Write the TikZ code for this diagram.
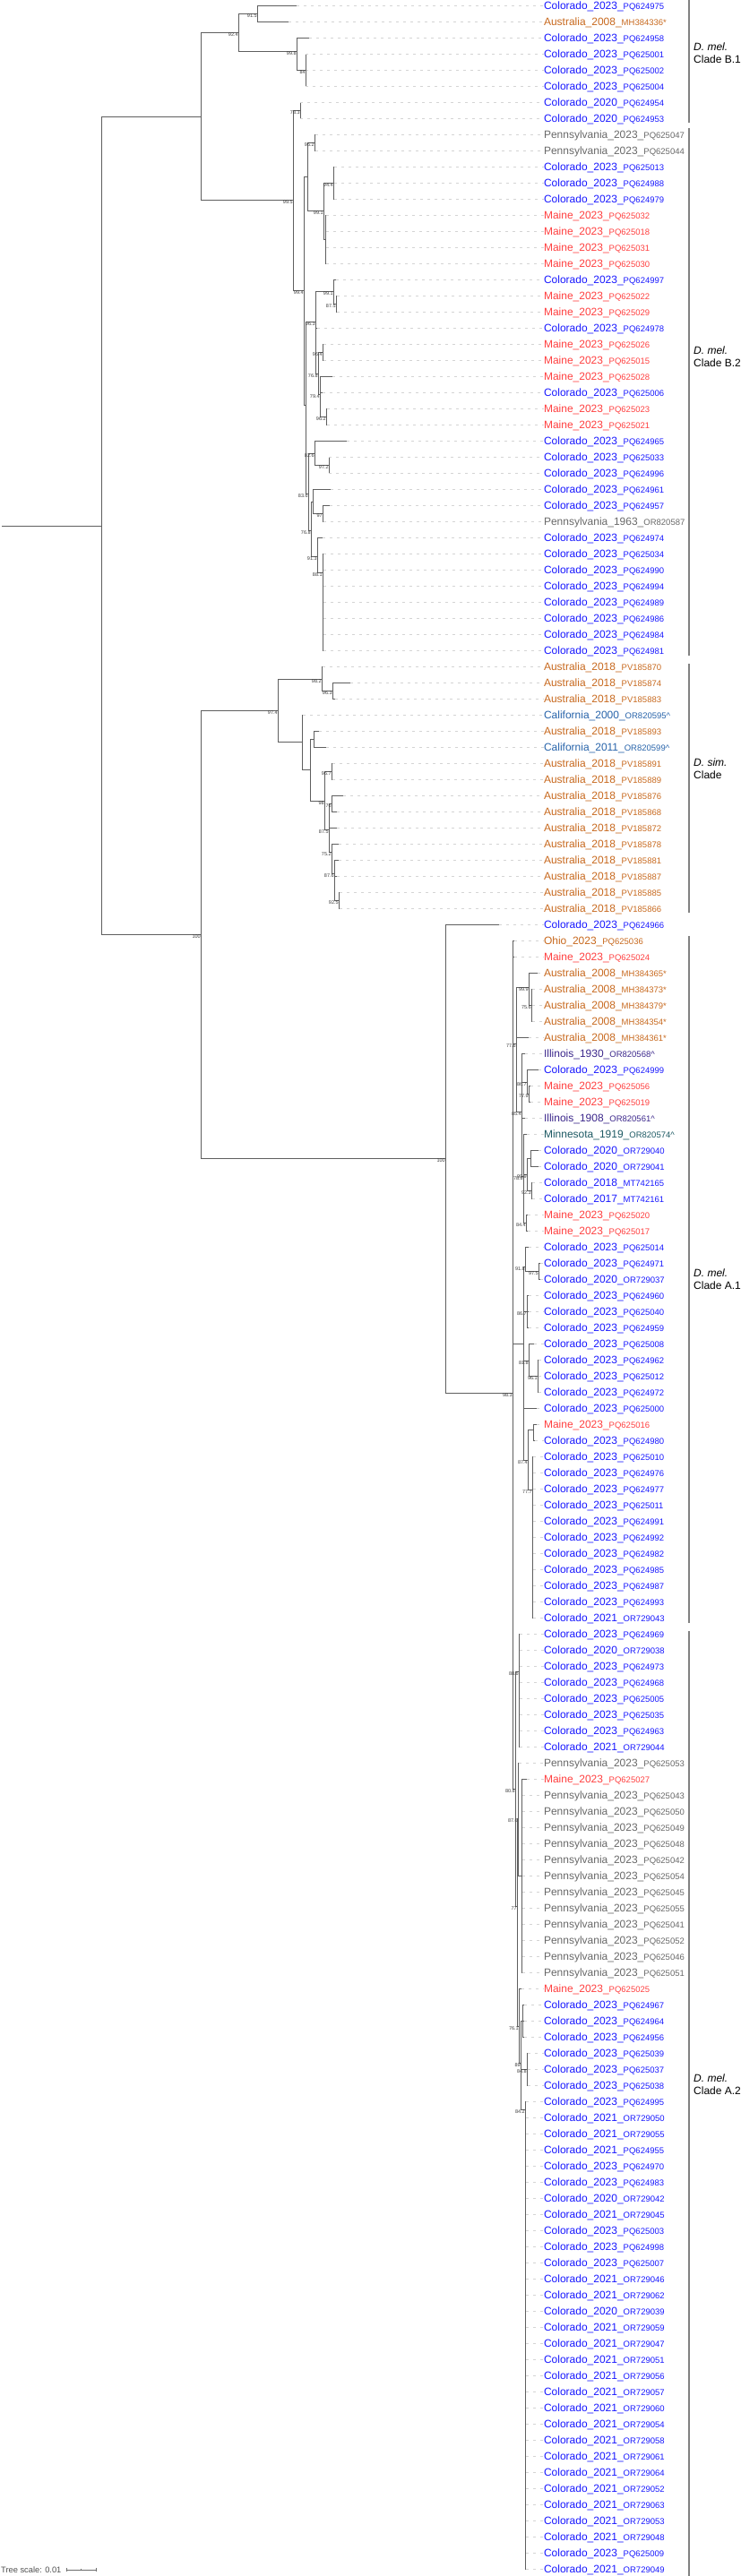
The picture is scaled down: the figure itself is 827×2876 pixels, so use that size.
\documentclass[tikz,border=0pt]{standalone}
\usepackage{fontspec}
\setmainfont{Liberation Sans}
\definecolor{colo}{RGB}{25,25,255}
\definecolor{maine}{RGB}{255,64,64}
\definecolor{penn}{RGB}{105,105,105}
\definecolor{aus}{RGB}{200,105,30}
\definecolor{cali}{RGB}{40,100,170}
\definecolor{illi}{RGB}{60,40,140}
\definecolor{minn}{RGB}{30,90,100}
\definecolor{brc}{RGB}{95,95,95}
\definecolor{leadc}{RGB}{212,212,212}
\definecolor{barc}{RGB}{130,130,130}
\tikzset{
  br/.style={draw=brc,line width=0.9pt},
  lead/.style={draw=leadc,line width=0.6pt,dash pattern=on 3pt off 5pt},
  lab/.style={anchor=base west,inner sep=0pt,outer sep=0pt,font=\fontsize{12}{14}\selectfont},
  bs/.style={anchor=east,inner sep=0pt,outer sep=0pt,text={rgb,255:red,60;green,60;blue,60},font=\fontsize{5.5}{6}\selectfont},
  cladebar/.style={draw=barc,line width=1.2pt},
  cladelab/.style={anchor=west,align=left,inner sep=0pt,font=\fontsize{12}{13.5}\selectfont},
}
\newcommand\tacc[1]{{\fontsize{9.5}{10}\selectfont #1}}
\newcommand\tleaf[6]{%
  \pgfmathsetmacro\tyy{6+18*#1}%
  \coordinate (T#1) at (#3,\tyy);%
  \draw[br] (#2) |- (T#1);%
  \node[lab,text=#4] (L#1) at (607,\tyy+4.2) {#5\tacc{#6}};%
  \draw[lead] (T#1) -- (L#1.west |- T#1);%
}
\newcommand\tnd[5]{%
  \coordinate (#1) at (#3,#4);%
  \draw[br] (#2) |- (#1);%
  \node[bs] (b#1) at (#3-0.3,#4+3) {#5};%
}
\newcommand\tndq[4]{%
  \coordinate (#1) at (#3,#4);%
  \draw[br] (#2) |- (#1);%
}
\begin{document}
\begin{tikzpicture}[x=1pt,y=-1pt]
\path[fill=white,use as bounding box] (0,0) rectangle (827,2876);
% root
\coordinate (R0) at (2,587);
\coordinate (NR) at (113,587);
\draw[br] (R0) -- (NR);
\tndq{NB}{NR}{224}{130}
\tnd{NSA}{NR}{224}{1043}{100}
% clade B.1
\tnd{NB1}{NB}{266}{36}{92.4}
\tnd{N915}{NB1}{287}{15}{91.5}
\tnd{N998}{NB1}{331}{57}{99.8}
\tnd{N84}{N998}{341}{78}{84}
% clade B.2
\tnd{Nb2}{NB}{327}{223}{99.5}
\tnd{N783}{Nb2}{335}{123}{78.3}
\tnd{N994}{Nb2}{339}{324}{99.4}
\tndq{Nx}{N994}{343}{197}
\tnd{N952}{Nx}{351}{159}{95.2}
\tnd{N991}{Nx}{361}{235}{99.1}
\tnd{N944}{N991}{372}{204}{94.4}
\tndq{NM}{N991}{363}{267}
\tndq{Ny}{N994}{341}{452}
\tnd{N963}{Ny}{352}{359}{96.3}
\tnd{N991b}{N963}{372}{325}{99.1}
\tnd{N875}{N991b}{375}{339}{87.5}
\tnd{N768}{N963}{355}{417}{76.8}
\tnd{N964}{N768}{360}{393}{96.4}
\tnd{N794}{N768}{357}{440}{79.4}
\tnd{N962}{N794}{364}{465}{96.2}
\tnd{N836}{Ny}{344}{551}{83.6}
\tnd{N826}{N836}{351}{506}{82.6}
\tnd{N972}{N826}{367}{519}{97.2}
\tnd{N768b}{N836}{347}{592}{76.8}
\tndq{Nq}{N768b}{349}{560}
\tnd{N97}{Nq}{360}{573}{97}
\tnd{N913}{N768b}{354}{621}{91.3}
\tnd{N881}{N913}{360}{639}{88.1}
% D. sim. clade
\tnd{NSim}{NSA}{310}{793}{97.4}
\tnd{N982}{NSim}{359}{758}{98.2}
\tnd{N963s}{N982}{371}{771}{96.3}
\tndq{Nc}{NSim}{337}{828}
\tndq{Nd}{Nc}{346}{859}
\tndq{Ne}{Nd}{350}{825}
\tnd{N98}{Nd}{362}{894}{98}
\tnd{N967}{N98}{370}{861}{96.7}
\tnd{N875s}{N98}{367}{926}{87.5}
\tnd{N76}{N875s}{370}{897}{76}
\tnd{N752}{N875s}{370}{951}{75.2}
\tnd{N876}{N752}{373}{975}{87.6}
\tnd{N925}{N876}{378}{1005}{92.5}
% clade A
\tnd{NA0}{NSA}{497}{1293}{100}
\tnd{NA}{NA0}{572}{1555}{98.3}
\tnd{NA1a}{NA}{576}{1165}{77.6}
\tnd{N999a}{NA1a}{590}{1102}{99.9}
\tnd{N756}{N999a}{593}{1122}{75.6}
\tnd{N854}{NA1a}{582}{1241}{85.4}
\tnd{N867}{N854}{588}{1208}{86.7}
\tnd{N779}{N867}{590}{1221}{77.9}
\tnd{N788}{N854}{584}{1313}{78.8}
\tnd{N999b}{N788}{588}{1311}{99.9}
\tndq{N71}{N999b}{592}{1293}
\tnd{N923}{N999b}{593}{1329}{92.3}
\tnd{N844}{N788}{587}{1365}{84.4}
\tndq{N587}{NA}{584}{1500}
\tnd{N918}{N587}{586}{1414}{91.8}
\tnd{N975}{N918}{601}{1419}{97.5}
\tnd{N867b}{N587}{588}{1464}{86.7}
\tnd{N818}{N587}{590}{1519}{81.8}
\tnd{N961}{N818}{600}{1536}{96.1}
\tnd{N874}{N587}{589}{1630}{87.4}
\tndq{N88}{N874}{595}{1596}
\tnd{N777}{N874}{594}{1663}{77.7}
\tnd{N808}{NA}{575}{1997}{80.8}
\tnd{N886}{N808}{579}{1866}{88.6}
\tnd{N77n}{N808}{577}{2128}{77}
\tnd{N876b}{N77n}{578}{2030}{87.6}
\tndq{N582}{N876b}{582}{2094}
\tnd{N761}{N77n}{579}{2262}{76.1}
\tnd{N89}{N761}{581}{2303}{89}
\tndq{N583}{N89}{583}{2256}
\tnd{N848}{N89}{588}{2310}{84.8}
\tnd{N842}{N89}{586}{2355}{84.2}
% leaves B.1
\tleaf{0}{N915}{331}{colo}{Colorado\_2023\_}{PQ624975}
\tleaf{1}{N915}{322}{aus}{Australia\_2008\_}{MH384336*}
\tleaf{2}{N998}{345}{colo}{Colorado\_2023\_}{PQ624958}
\tleaf{3}{N84}{341}{colo}{Colorado\_2023\_}{PQ625001}
\tleaf{4}{N84}{341}{colo}{Colorado\_2023\_}{PQ625002}
\tleaf{5}{N84}{341}{colo}{Colorado\_2023\_}{PQ625004}
\tleaf{6}{N783}{335}{colo}{Colorado\_2020\_}{PQ624954}
\tleaf{7}{N783}{335}{colo}{Colorado\_2020\_}{PQ624953}
% leaves B.2
\tleaf{8}{N952}{352}{penn}{Pennsylvania\_2023\_}{PQ625047}
\tleaf{9}{N952}{352}{penn}{Pennsylvania\_2023\_}{PQ625044}
\tleaf{10}{N944}{373}{colo}{Colorado\_2023\_}{PQ625013}
\tleaf{11}{N944}{373}{colo}{Colorado\_2023\_}{PQ624988}
\tleaf{12}{N944}{373}{colo}{Colorado\_2023\_}{PQ624979}
\tleaf{13}{NM}{364}{maine}{Maine\_2023\_}{PQ625032}
\tleaf{14}{NM}{364}{maine}{Maine\_2023\_}{PQ625018}
\tleaf{15}{NM}{364}{maine}{Maine\_2023\_}{PQ625031}
\tleaf{16}{NM}{364}{maine}{Maine\_2023\_}{PQ625030}
\tleaf{17}{N991b}{375}{colo}{Colorado\_2023\_}{PQ624997}
\tleaf{18}{N875}{376}{maine}{Maine\_2023\_}{PQ625022}
\tleaf{19}{N875}{376}{maine}{Maine\_2023\_}{PQ625029}
\tleaf{20}{N963}{354}{colo}{Colorado\_2023\_}{PQ624978}
\tleaf{21}{N964}{361}{maine}{Maine\_2023\_}{PQ625026}
\tleaf{22}{N964}{361}{maine}{Maine\_2023\_}{PQ625015}
\tleaf{23}{N794}{371}{maine}{Maine\_2023\_}{PQ625028}
\tleaf{24}{N794}{360}{colo}{Colorado\_2023\_}{PQ625006}
\tleaf{25}{N962}{365}{maine}{Maine\_2023\_}{PQ625023}
\tleaf{26}{N962}{365}{maine}{Maine\_2023\_}{PQ625021}
\tleaf{27}{N826}{387}{colo}{Colorado\_2023\_}{PQ624965}
\tleaf{28}{N972}{367}{colo}{Colorado\_2023\_}{PQ625033}
\tleaf{29}{N972}{367}{colo}{Colorado\_2023\_}{PQ624996}
\tleaf{30}{Nq}{369}{colo}{Colorado\_2023\_}{PQ624961}
\tleaf{31}{N97}{368}{colo}{Colorado\_2023\_}{PQ624957}
\tleaf{32}{N97}{361}{penn}{Pennsylvania\_1963\_}{OR820587}
\tleaf{33}{N913}{360}{colo}{Colorado\_2023\_}{PQ624974}
\tleaf{34}{N881}{361}{colo}{Colorado\_2023\_}{PQ625034}
\tleaf{35}{N881}{361}{colo}{Colorado\_2023\_}{PQ624990}
\tleaf{36}{N881}{361}{colo}{Colorado\_2023\_}{PQ624994}
\tleaf{37}{N881}{361}{colo}{Colorado\_2023\_}{PQ624989}
\tleaf{38}{N881}{361}{colo}{Colorado\_2023\_}{PQ624986}
\tleaf{39}{N881}{361}{colo}{Colorado\_2023\_}{PQ624984}
\tleaf{40}{N881}{361}{colo}{Colorado\_2023\_}{PQ624981}
% leaves D. sim.
\tleaf{41}{N982}{360}{aus}{Australia\_2018\_}{PV185870}
\tleaf{42}{N963s}{391}{aus}{Australia\_2018\_}{PV185874}
\tleaf{43}{N963s}{374}{aus}{Australia\_2018\_}{PV185883}
\tleaf{44}{Nc}{338}{cali}{California\_2000\_}{OR820595\textasciicircum}
\tleaf{45}{Ne}{356}{aus}{Australia\_2018\_}{PV185893}
\tleaf{46}{Ne}{364}{cali}{California\_2011\_}{OR820599\textasciicircum}
\tleaf{47}{N967}{371}{aus}{Australia\_2018\_}{PV185891}
\tleaf{48}{N967}{371}{aus}{Australia\_2018\_}{PV185889}
\tleaf{49}{N76}{383}{aus}{Australia\_2018\_}{PV185876}
\tleaf{50}{N76}{376}{aus}{Australia\_2018\_}{PV185868}
\tleaf{51}{N875s}{376}{aus}{Australia\_2018\_}{PV185872}
\tleaf{52}{N752}{378}{aus}{Australia\_2018\_}{PV185878}
\tleaf{53}{N876}{378}{aus}{Australia\_2018\_}{PV185881}
\tleaf{54}{N876}{376}{aus}{Australia\_2018\_}{PV185887}
\tleaf{55}{N925}{379}{aus}{Australia\_2018\_}{PV185885}
\tleaf{56}{N925}{379}{aus}{Australia\_2018\_}{PV185866}
% outlier
\tleaf{57}{NA0}{557}{colo}{Colorado\_2023\_}{PQ624966}
% leaves A.1
\tleaf{58}{NA}{574}{aus}{Ohio\_2023\_}{PQ625036}
\tleaf{59}{NA}{574}{maine}{Maine\_2023\_}{PQ625024}
\tleaf{60}{N999a}{600}{aus}{Australia\_2008\_}{MH384365*}
\tleaf{61}{N756}{594}{aus}{Australia\_2008\_}{MH384373*}
\tleaf{62}{N756}{594}{aus}{Australia\_2008\_}{MH384379*}
\tleaf{63}{N756}{594}{aus}{Australia\_2008\_}{MH384354*}
\tleaf{64}{NA1a}{590}{aus}{Australia\_2008\_}{MH384361*}
\tleaf{65}{N854}{586}{illi}{Illinois\_1930\_}{OR820568\textasciicircum}
\tleaf{66}{N867}{601}{colo}{Colorado\_2023\_}{PQ624999}
\tleaf{67}{N779}{592}{maine}{Maine\_2023\_}{PQ625056}
\tleaf{68}{N779}{592}{maine}{Maine\_2023\_}{PQ625019}
\tleaf{69}{N854}{586}{illi}{Illinois\_1908\_}{OR820561\textasciicircum}
\tleaf{70}{N788}{588}{minn}{Minnesota\_1919\_}{OR820574\textasciicircum}
\tleaf{71}{N71}{601}{colo}{Colorado\_2020\_}{OR729040}
\tleaf{72}{N71}{601}{colo}{Colorado\_2020\_}{OR729041}
\tleaf{73}{N923}{594}{colo}{Colorado\_2018\_}{MT742165}
\tleaf{74}{N923}{594}{colo}{Colorado\_2017\_}{MT742161}
\tleaf{75}{N844}{589}{maine}{Maine\_2023\_}{PQ625020}
\tleaf{76}{N844}{589}{maine}{Maine\_2023\_}{PQ625017}
\tleaf{77}{N918}{590}{colo}{Colorado\_2023\_}{PQ625014}
\tleaf{78}{N975}{603}{colo}{Colorado\_2023\_}{PQ624971}
\tleaf{79}{N975}{603}{colo}{Colorado\_2020\_}{OR729037}
\tleaf{80}{N867b}{590}{colo}{Colorado\_2023\_}{PQ624960}
\tleaf{81}{N867b}{590}{colo}{Colorado\_2023\_}{PQ625040}
\tleaf{82}{N867b}{590}{colo}{Colorado\_2023\_}{PQ624959}
\tleaf{83}{N818}{596}{colo}{Colorado\_2023\_}{PQ625008}
\tleaf{84}{N961}{601}{colo}{Colorado\_2023\_}{PQ624962}
\tleaf{85}{N961}{601}{colo}{Colorado\_2023\_}{PQ625012}
\tleaf{86}{N961}{601}{colo}{Colorado\_2023\_}{PQ624972}
\tleaf{87}{N587}{599}{colo}{Colorado\_2023\_}{PQ625000}
\tleaf{88}{N88}{599}{maine}{Maine\_2023\_}{PQ625016}
\tleaf{89}{N88}{597}{colo}{Colorado\_2023\_}{PQ624980}
\tleaf{90}{N777}{595}{colo}{Colorado\_2023\_}{PQ625010}
\tleaf{91}{N777}{595}{colo}{Colorado\_2023\_}{PQ624976}
\tleaf{92}{N777}{595}{colo}{Colorado\_2023\_}{PQ624977}
\tleaf{93}{N777}{595}{colo}{Colorado\_2023\_}{PQ625011}
\tleaf{94}{N777}{595}{colo}{Colorado\_2023\_}{PQ624991}
\tleaf{95}{N777}{595}{colo}{Colorado\_2023\_}{PQ624992}
\tleaf{96}{N777}{595}{colo}{Colorado\_2023\_}{PQ624982}
\tleaf{97}{N777}{595}{colo}{Colorado\_2023\_}{PQ624985}
\tleaf{98}{N777}{595}{colo}{Colorado\_2023\_}{PQ624987}
\tleaf{99}{N777}{595}{colo}{Colorado\_2023\_}{PQ624993}
\tleaf{100}{N777}{595}{colo}{Colorado\_2021\_}{OR729043}
% leaves A.2
\tleaf{101}{N886}{580}{colo}{Colorado\_2023\_}{PQ624969}
\tleaf{102}{N886}{580}{colo}{Colorado\_2020\_}{OR729038}
\tleaf{103}{N886}{580}{colo}{Colorado\_2023\_}{PQ624973}
\tleaf{104}{N886}{580}{colo}{Colorado\_2023\_}{PQ624968}
\tleaf{105}{N886}{580}{colo}{Colorado\_2023\_}{PQ625005}
\tleaf{106}{N886}{580}{colo}{Colorado\_2023\_}{PQ625035}
\tleaf{107}{N886}{580}{colo}{Colorado\_2023\_}{PQ624963}
\tleaf{108}{N886}{580}{colo}{Colorado\_2021\_}{OR729044}
\tleaf{109}{N876b}{579}{penn}{Pennsylvania\_2023\_}{PQ625053}
\tleaf{110}{N582}{588}{maine}{Maine\_2023\_}{PQ625027}
\tleaf{111}{N582}{583}{penn}{Pennsylvania\_2023\_}{PQ625043}
\tleaf{112}{N582}{583}{penn}{Pennsylvania\_2023\_}{PQ625050}
\tleaf{113}{N582}{583}{penn}{Pennsylvania\_2023\_}{PQ625049}
\tleaf{114}{N582}{583}{penn}{Pennsylvania\_2023\_}{PQ625048}
\tleaf{115}{N582}{583}{penn}{Pennsylvania\_2023\_}{PQ625042}
\tleaf{116}{N582}{583}{penn}{Pennsylvania\_2023\_}{PQ625054}
\tleaf{117}{N582}{583}{penn}{Pennsylvania\_2023\_}{PQ625045}
\tleaf{118}{N582}{583}{penn}{Pennsylvania\_2023\_}{PQ625055}
\tleaf{119}{N582}{583}{penn}{Pennsylvania\_2023\_}{PQ625041}
\tleaf{120}{N582}{583}{penn}{Pennsylvania\_2023\_}{PQ625052}
\tleaf{121}{N582}{583}{penn}{Pennsylvania\_2023\_}{PQ625046}
\tleaf{122}{N582}{583}{penn}{Pennsylvania\_2023\_}{PQ625051}
\tleaf{123}{N761}{582}{maine}{Maine\_2023\_}{PQ625025}
\tleaf{124}{N583}{585}{colo}{Colorado\_2023\_}{PQ624967}
\tleaf{125}{N583}{585}{colo}{Colorado\_2023\_}{PQ624964}
\tleaf{126}{N583}{585}{colo}{Colorado\_2023\_}{PQ624956}
\tleaf{127}{N848}{589}{colo}{Colorado\_2023\_}{PQ625039}
\tleaf{128}{N848}{589}{colo}{Colorado\_2023\_}{PQ625037}
\tleaf{129}{N848}{589}{colo}{Colorado\_2023\_}{PQ625038}
\tleaf{130}{N842}{587}{colo}{Colorado\_2023\_}{PQ624995}
\tleaf{131}{N842}{587}{colo}{Colorado\_2021\_}{OR729050}
\tleaf{132}{N842}{587}{colo}{Colorado\_2021\_}{OR729055}
\tleaf{133}{N842}{587}{colo}{Colorado\_2021\_}{PQ624955}
\tleaf{134}{N842}{587}{colo}{Colorado\_2023\_}{PQ624970}
\tleaf{135}{N842}{587}{colo}{Colorado\_2023\_}{PQ624983}
\tleaf{136}{N842}{587}{colo}{Colorado\_2020\_}{OR729042}
\tleaf{137}{N842}{587}{colo}{Colorado\_2021\_}{OR729045}
\tleaf{138}{N842}{587}{colo}{Colorado\_2023\_}{PQ625003}
\tleaf{139}{N842}{587}{colo}{Colorado\_2023\_}{PQ624998}
\tleaf{140}{N842}{587}{colo}{Colorado\_2023\_}{PQ625007}
\tleaf{141}{N842}{587}{colo}{Colorado\_2021\_}{OR729046}
\tleaf{142}{N842}{587}{colo}{Colorado\_2021\_}{OR729062}
\tleaf{143}{N842}{587}{colo}{Colorado\_2020\_}{OR729039}
\tleaf{144}{N842}{587}{colo}{Colorado\_2021\_}{OR729059}
\tleaf{145}{N842}{587}{colo}{Colorado\_2021\_}{OR729047}
\tleaf{146}{N842}{587}{colo}{Colorado\_2021\_}{OR729051}
\tleaf{147}{N842}{587}{colo}{Colorado\_2021\_}{OR729056}
\tleaf{148}{N842}{587}{colo}{Colorado\_2021\_}{OR729057}
\tleaf{149}{N842}{587}{colo}{Colorado\_2021\_}{OR729060}
\tleaf{150}{N842}{587}{colo}{Colorado\_2021\_}{OR729054}
\tleaf{151}{N842}{587}{colo}{Colorado\_2021\_}{OR729058}
\tleaf{152}{N842}{587}{colo}{Colorado\_2021\_}{OR729061}
\tleaf{153}{N842}{587}{colo}{Colorado\_2021\_}{OR729064}
\tleaf{154}{N842}{587}{colo}{Colorado\_2021\_}{OR729052}
\tleaf{155}{N842}{587}{colo}{Colorado\_2021\_}{OR729063}
\tleaf{156}{N842}{587}{colo}{Colorado\_2021\_}{OR729053}
\tleaf{157}{N842}{587}{colo}{Colorado\_2021\_}{OR729048}
\tleaf{158}{N842}{587}{colo}{Colorado\_2023\_}{PQ625009}
\tleaf{159}{N842}{587}{colo}{Colorado\_2021\_}{OR729049}
% clade bars
\coordinate (cb1t) at (769,0);    \coordinate (cb1b) at (769,137);
\coordinate (cb2t) at (769,143);  \coordinate (cb2b) at (769,732);
\coordinate (cb3t) at (769,741);  \coordinate (cb3b) at (769,1019);
\coordinate (cb4t) at (769,1045); \coordinate (cb4b) at (769,1812);
\coordinate (cb5t) at (769,1821); \coordinate (cb5b) at (769,2876);
\draw[cladebar] (cb1t) -- (cb1b);
\draw[cladebar] (cb2t) -- (cb2b);
\draw[cladebar] (cb3t) -- (cb3b);
\draw[cladebar] (cb4t) -- (cb4b);
\draw[cladebar] (cb5t) -- (cb5b);
\node[cladelab] (cl1) at (774,59) {\textit{D. mel.}\\Clade B.1};
\node[cladelab] (cl2) at (774,398) {\textit{D. mel.}\\Clade B.2};
\node[cladelab] (cl3) at (774,858) {\textit{D. sim.}\\Clade};
\node[cladelab] (cl4) at (774,1428) {\textit{D. mel.}\\Clade A.1};
\node[cladelab] (cl5) at (774,2327) {\textit{D. mel.}\\Clade A.2};
% tree scale
\node[anchor=base west,inner sep=0pt,text={rgb,255:red,80;green,80;blue,80},font=\fontsize{9.3}{10}\selectfont] (ts) at (1,2872.5) {Tree scale: 0.01};
\coordinate (sb1) at (74,2869);
\coordinate (sb2) at (107,2869);
\coordinate (sbm) at (90.5,2869);
\draw[draw={rgb,255:red,110;green,110;blue,110},line width=0.8pt] (sb1) -- (sb2);
\draw[draw={rgb,255:red,110;green,110;blue,110},line width=0.8pt] ([yshift=2pt]sb1) -- ([yshift=-2pt]sb1);
\draw[draw={rgb,255:red,110;green,110;blue,110},line width=0.8pt] ([yshift=2pt]sb2) -- ([yshift=-2pt]sb2);
\draw[draw={rgb,255:red,110;green,110;blue,110},line width=0.6pt] ([yshift=1.2pt]sbm) -- ([yshift=-1.2pt]sbm);
\end{tikzpicture}
\end{document}
